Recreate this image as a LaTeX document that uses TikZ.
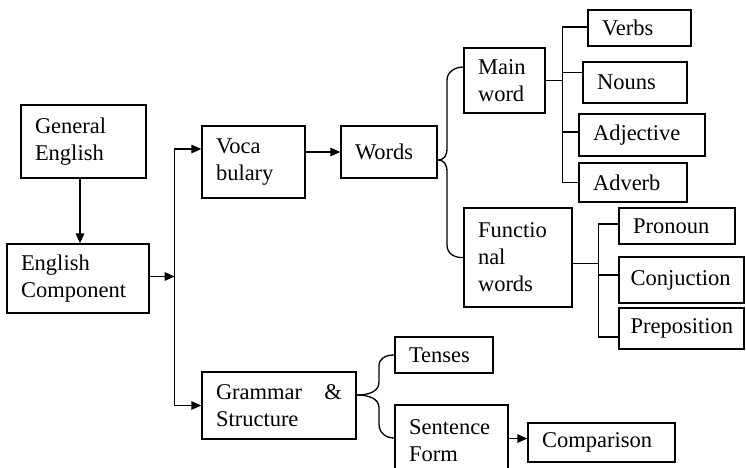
\documentclass[tikz,border=0pt]{standalone}
\usepackage{fontspec}
\setmainfont{Liberation Serif}
\usetikzlibrary{arrows.meta,calc}
\begin{document}
\begin{tikzpicture}[x=1pt,y=-1pt,
  box/.style={draw, line width=1.3pt, rectangle, inner sep=0pt, align=left,
    font=\fontsize{22.5}{27}\selectfont},
  wh/.style n args={3}{minimum width=#1pt, minimum height=#2pt, text width=#3pt},
  ln/.style={line width=1.3pt},
  arr/.style={ln, -{Triangle[length=10pt,width=8.5pt]}}]
\clip (0,0) rectangle (746,467);
\fill[white] (0,0) rectangle (746,467);

% boxes
\node[box, wh={125}{73}{97}]   (GE)       at (83.5,141.5) {General\\English};
\node[box, wh={142}{69}{114}]  (EC)       at (78,278.5)   {English\\Component};
\node[box, wh={103}{72}{75}]   (Voca)     at (253.5,162)  {Voca\\bulary};
\node[box, wh={96}{52}{68}]    (Words)    at (389,152)    {Words};
\node[box, wh={81}{65}{53}]    (Main)     at (504.5,80.5) {Main\\word};
\node[box, wh={103}{36}{75}]   (Verbs)    at (639.5,28)   {Verbs};
\node[box, wh={104}{41}{76}]   (Nouns)    at (635,82.5)   {Nouns};
\node[box, wh={126}{42}{98}]   (Adj)      at (642,135)    {Adjective};
\node[box, wh={108}{39}{80}]   (Adverb)   at (633,182.5)  {Adverb};
\node[box, wh={108}{99}{80}]   (Func)     at (518,257.5)  {Functio\\nal\\words};
\node[box, wh={116}{36}{88}]   (Pronoun)  at (677,226)    {Pronoun};
\node[box, wh={125}{46}{102}]  (Conj)     at (681.5,280)  {Conjuction};
\node[box, wh={125}{41}{102}]  (Prep)     at (681.5,328.5){Preposition};
\node[box, wh={154}{67}{126}]  (Grammar)  at (279,405.5)  {Grammar\hfill\&\\Structure};
\node[box, wh={98}{36}{70}]    (Tenses)   at (444,355)    {Tenses};
\node[box, wh={113}{72}{85}]   (Sentence) at (451.5,441)  {Sentence\\Form};
\node[box, wh={147}{39}{119}]  (Comp)     at (601.5,442.5){Comparison};

% General -> English Component
\coordinate (ge) at ($(GE.south)+(-3.5,0)$);
\draw[arr] (ge) -- (ge |- EC.north);

% spine
\coordinate (sp) at ($(EC.east)+(25,-2)$);
\coordinate (ece) at ($(EC.east)+(0,-2)$);
\coordinate (vt) at ($(Voca.west)+(0,-13)$);
\draw[arr] (ece) -- (sp);
\draw[arr] (sp) |- (vt);
\draw[arr] (sp) |- (Grammar.west);

% Voca -> Words
\draw[arr] (Voca.east |- Words.west) -- (Words.west);

% Words brace
\coordinate (wc) at ($(Words.east)+(0,8)$);
\coordinate (mw) at ($(Main.west)+(0,-13.5)$);
\draw[ln] (wc) .. controls (444,160) and (447,156) .. (447,148) -- (447,80)
  .. controls (447,72) and (455,67) .. (mw);
\draw[ln] (wc) .. controls (444,160) and (447,164) .. (447,172) -- (447,245)
  .. controls (447,254) and (455,258) .. (Func.west);

% Main word bracket
\coordinate (mb) at ($(Main.east)+(17,0)$);
\coordinate (vb) at ($(Verbs.west)+(0,-1)$);
\coordinate (nt) at ($(Nouns.west)+(0,-10)$);
\coordinate (at) at ($(Adj.west)+(0,-3)$);
\draw[ln] (Main.east) -- (mb);
\draw[ln] (vb) -| (mb) |- (Adverb.west);
\draw[ln] (mb |- nt) -- (nt);
\draw[ln] (mb |- at) -- (at);

% Functional bracket
\coordinate (fe) at ($(Func.east)+(0,6)$);
\coordinate (fb) at ($(fe)+(26,0)$);
\coordinate (pt) at ($(Pronoun.west)+(0,-2)$);
\coordinate (ct) at ($(Conj.west)+(0,-5)$);
\coordinate (rt) at ($(Prep.west)+(0,8.5)$);
\draw[ln] (fe) -- (fb);
\draw[ln] (pt) -| (fb) |- (rt);
\draw[ln] (fb |- ct) -- (ct);

% Grammar brace
\coordinate (gc) at ($(Grammar.east)+(0,-10.5)$);
\coordinate (sw) at ($(Sentence.west)+(0,-3)$);
\draw[ln] (gc) .. controls (368,395) and (379,392) .. (379,382) -- (379,366)
  .. controls (379,358) and (386,355) .. (Tenses.west);
\draw[ln] (gc) .. controls (368,395) and (379,398) .. (379,408) -- (379,424)
  .. controls (379,433) and (386,438) .. (sw);

% Sentence -> Comparison
\coordinate (cw) at ($(Comp.west)+(0,-4)$);
\draw[arr] (Sentence.east |- cw) -- (cw);
\end{tikzpicture}
\end{document}
